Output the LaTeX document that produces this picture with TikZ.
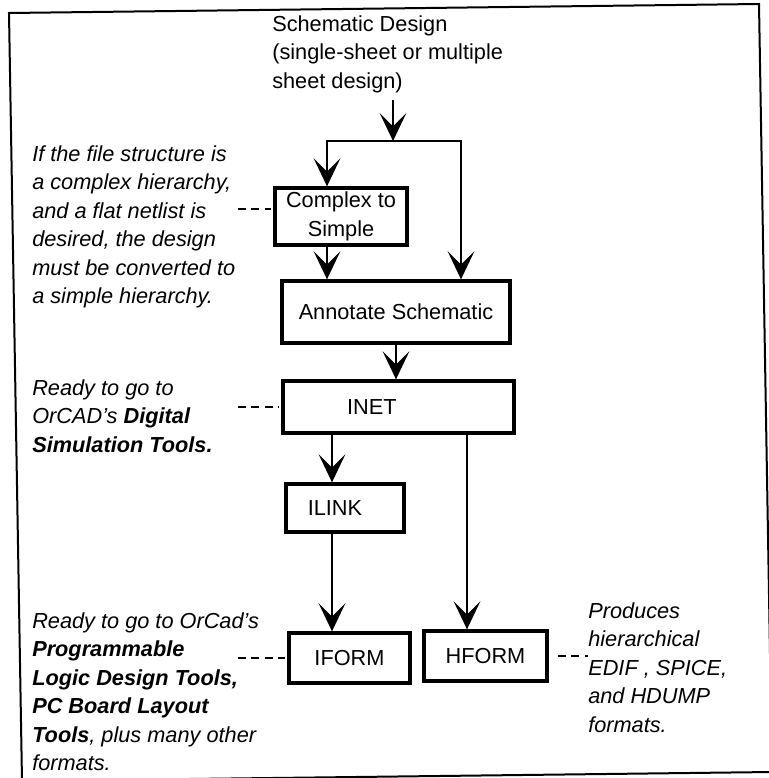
\documentclass[tikz,border=0pt]{standalone}
\usepackage{fontspec}
\setmainfont{Liberation Sans}
\usetikzlibrary{arrows.meta}
\newcommand{\pxu}{0.75pt}
\newcommand{\diafont}{\fontsize{16.3pt}{21.4pt}\selectfont}

\begin{document}
\begin{tikzpicture}[x=\pxu, y=-\pxu, font=\diafont,
    box/.style={draw, rectangle, line width=2.5pt, inner sep=0pt, align=center},
    wire/.style={line width=2pt},
    arr/.style={wire, -{Stealth[length=21pt, width=20pt, inset=10pt, line width=2pt]}},
    arrs/.style={wire, {Stealth[length=21pt, width=20pt, inset=10pt, line width=2pt]}-{Stealth[length=21pt, width=20pt, inset=10pt, line width=2pt]}},
    note/.style={anchor=north west, inner sep=0pt, align=left, font=\diafont\itshape},
    lead/.style={line width=0.8pt, dash pattern=on 6pt off 4pt, shorten >=2pt}]
    \useasboundingbox (0,0) rectangle (768,778);
    % Frame, a little askew
    \draw[line width=1.5pt] (9,13) -- (759,4) -- (772,772) -- (22,781) -- cycle;

    % Title
    \node[anchor=north west, inner sep=0pt, align=left] (title) at (272,15)
        {Schematic Design\\(single-sheet or multiple\\sheet design)};

    % Tool boxes
    \node[box, minimum width=132*\pxu, minimum height=57*\pxu] (complex) at (341,216.5) {Complex to\\Simple};
    \node[box, minimum width=228*\pxu, minimum height=62*\pxu] (annot) at (396,312) {Annotate Schematic};
    \node[box, minimum width=231*\pxu, minimum height=52*\pxu] (inet) at (398.5,407) {\hspace*{-40pt}INET};
    \node[box, minimum width=118*\pxu, minimum height=48*\pxu] (ilink) at (345,508) {\hspace*{-15pt}ILINK};
    \node[box, minimum width=121*\pxu, minimum height=50*\pxu] (iform) at (349.5,658) {IFORM};
    \node[box, minimum width=123*\pxu, minimum height=50*\pxu] (hform) at (485.5,656) {HFORM};

    % Side notes
    \node[note] (cnote) at (32,145) {If the file structure is\\a complex hierarchy,\\and a flat netlist is\\desired, the design\\must be converted to\\a simple hierarchy.};
    \node[note] (inote) at (32,379) {Ready to go to\\OrCAD's \textbf{Digital}\\\textbf{Simulation Tools.}};
    \node[note] (fnote) at (32,612) {Ready to go to OrCad's\\\textbf{Programmable}\\\textbf{Logic Design Tools,}\\\textbf{PC Board Layout}\\\textbf{Tools}, plus many other\\formats.};
    \node[note] (hnote) at (588,602) {Produces\\hierarchical\\EDIF , SPICE,\\and HDUMP\\formats.};

    % Branch points and columns
    \coordinate (feed) at (393,100);
    \coordinate (lbranch) at (327,141);
    \coordinate (rbranch) at (461,141);
    \coordinate (lcol) at (332,0);
    \coordinate (rcol) at (467,0);
    \coordinate (notes-edge) at (238,0);

    % Flow
    \draw[arr] (feed) -- (feed |- lbranch);
    \draw[arrs] (complex.north -| lbranch) -- (lbranch) -- (rbranch) -- (annot.north -| rbranch);
    \draw[arr] (complex.south -| lbranch) -- (annot.north -| lbranch);
    \draw[arr] (annot.south) -- (inet.north -| annot.south);
    \draw[arr] (inet.south -| lcol) -- (ilink.north -| lcol);
    \draw[arr] (ilink.south -| lcol) -- (iform.north -| lcol);
    \draw[arr] (inet.south -| rcol) -- (hform.north -| rcol);

    % Leaders to the notes
    \draw[lead] (notes-edge |- 0,209) -- (complex.west |- 0,209);
    \draw[lead] (notes-edge |- inet.west) -- (inet.west);
    \draw[lead] (notes-edge |- iform.west) -- (iform.west);
    \draw[lead, shorten <=7pt, shorten >=0pt] (hform.east) -- (hnote.west |- hform.east);
\end{tikzpicture}
\end{document}
